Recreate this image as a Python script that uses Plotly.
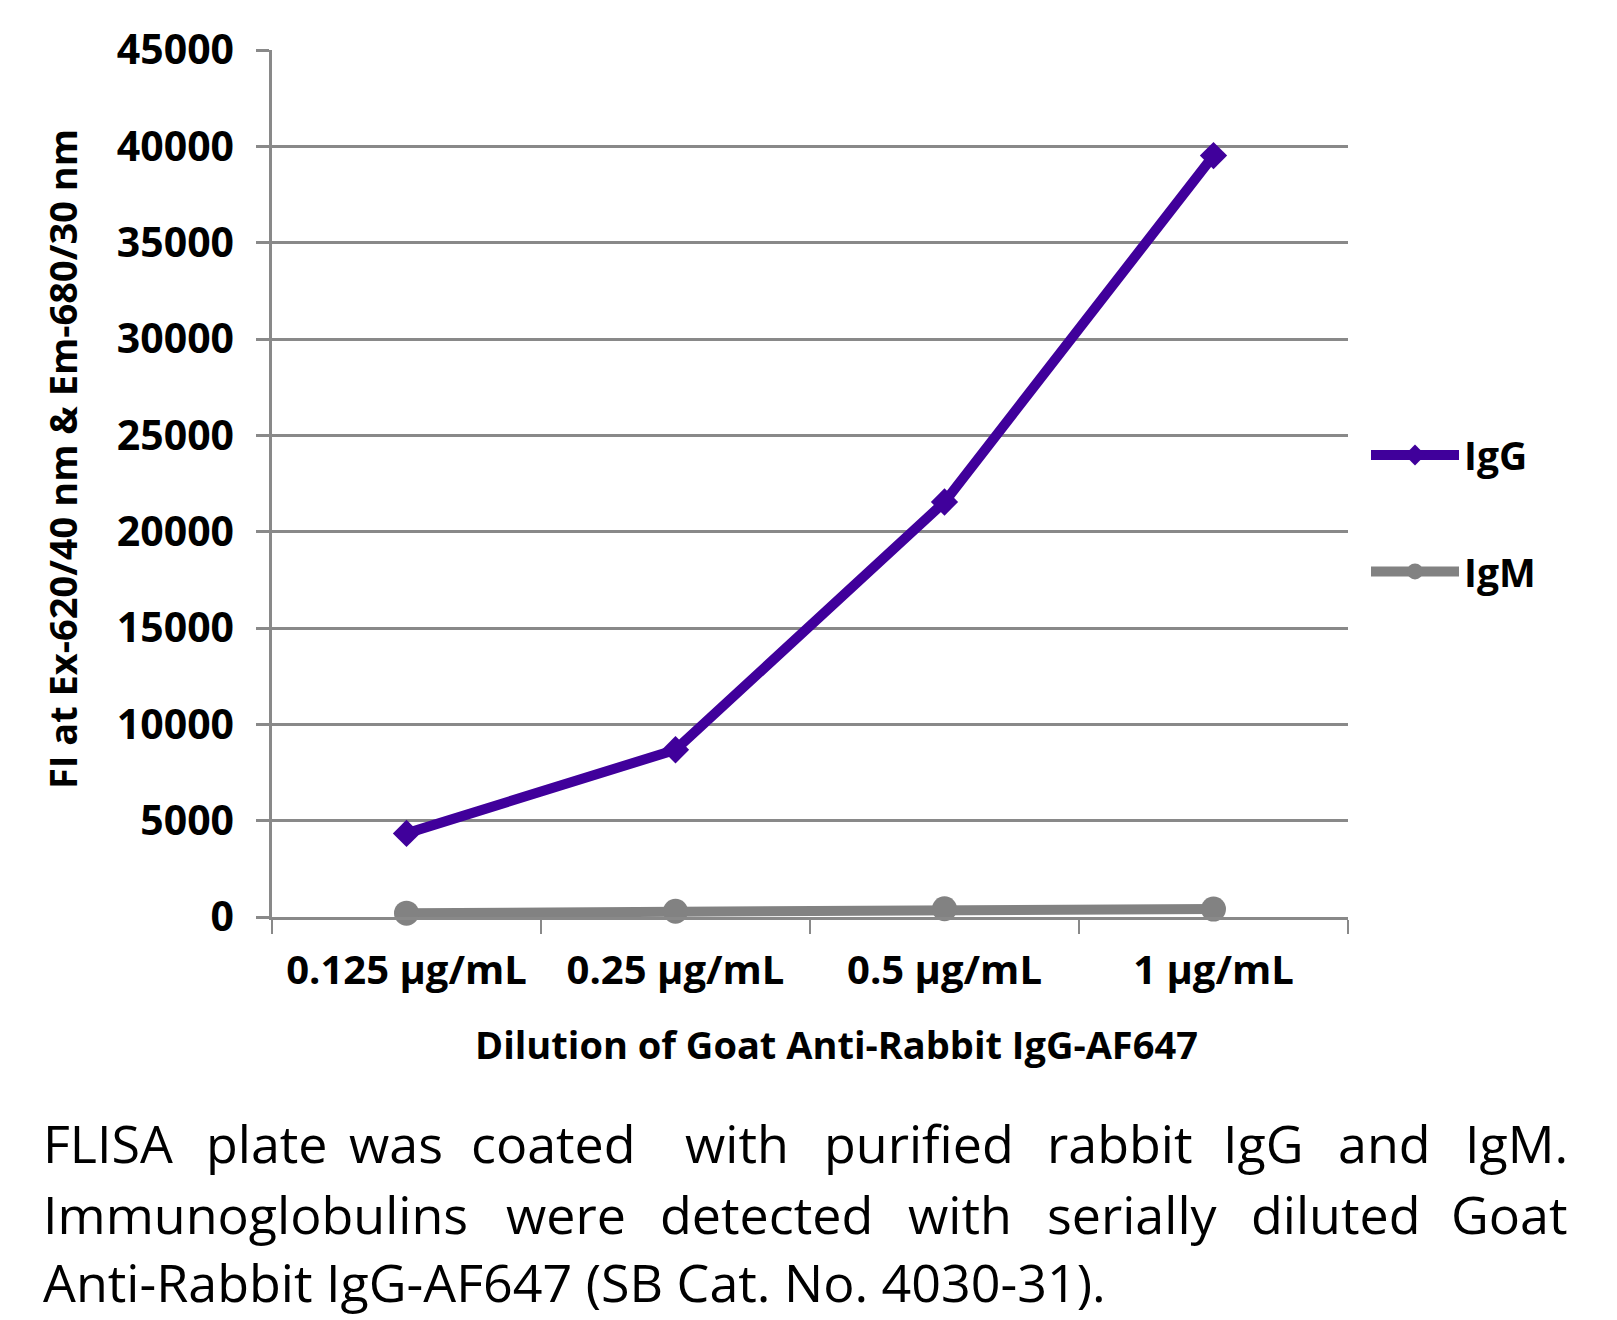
import plotly.graph_objects as go

# ---- data ----
categories = ["0.125 µg/mL", "0.25 µg/mL", "0.5 µg/mL", "1 µg/mL"]
igg_values = [4340, 8680, 21540, 39520]
igm_values = [200, 300, 430, 410]
y_tick_values = [0, 5000, 10000, 15000, 20000, 25000, 30000, 35000, 40000, 45000]

x_title = "Dilution of Goat Anti-Rabbit IgG-AF647"
y_title = "FI at Ex-620/40 nm & Em-680/30 nm"
caption_line1 = ["FLISA", "plate", "was", "coated", "with", "purified", "rabbit", "IgG", "and", "IgM."]
caption_line2 = ["Immunoglobulins", "were", "detected", "with", "serially", "diluted", "Goat"]
caption_line3 = "Anti-Rabbit IgG-AF647 (SB Cat. No. 4030-31)."

# ---- layout geometry (reference pixels; page body has an 8px margin) ----
O = 8
W, H = 1617 - O, 1320 - O
L, R, T, B = 272, 1348, 46, 917
PW, PH = R - L, B - T


def px(x):
    return (x - L) / PW


def py(y):
    return (B - y) / PH


GRID = "#898989"
PURPLE = "#40009B"
GRAY = "#828282"
BOLD = "Open Sans"

fig = go.Figure()
fig.add_trace(go.Scatter(
    x=categories, y=igg_values, name="IgG", mode="lines+markers",
    line=dict(color=PURPLE, width=10),
    marker=dict(symbol="diamond", size=21, color=PURPLE),
    cliponaxis=False, legend="legend",
))
fig.add_trace(go.Scatter(
    x=categories, y=igm_values, name="IgM", mode="lines+markers",
    line=dict(color=GRAY, width=10),
    marker=dict(symbol="circle", size=25, color=GRAY),
    cliponaxis=False, legend="legend2",
))

legend_common = dict(
    font=dict(family=BOLD, size=39, color="black", weight="bold"),
    bgcolor="rgba(0,0,0,0)", itemwidth=88, xanchor="left", yanchor="middle",
)

annotations = []
# axis titles
annotations.append(dict(
    text=y_title, textangle=-90, xref="paper", yref="paper",
    x=px(62), y=py(457), xanchor="center", yanchor="middle", showarrow=False,
    font=dict(family=BOLD, size=38, color="black", weight="bold"),
))
annotations.append(dict(
    text=x_title, xref="paper", yref="paper",
    x=px(836), y=py(1045), xanchor="center", yanchor="middle", showarrow=False,
    font=dict(family=BOLD, size=38, color="black", weight="bold"),
))

cap_font = dict(family="Open Sans", size=52, color="black")
# line 1 word positions (centres), justified
line1_x = [None, 267, 396, 553, 737, 919, 1119, 1263, 1384, None]
line2_x = [None, 566, 766, 960, 1132, 1336, None]
LEFT, RIGHT = 41, 1570


def add_line(words, xs, ycen):
    for i, (w, xc) in enumerate(zip(words, xs)):
        if i == 0:
            xa, xv = "left", LEFT
        elif i == len(words) - 1:
            xa, xv = "right", RIGHT
        else:
            xa, xv = "center", xc
        annotations.append(dict(
            text=w, xref="paper", yref="paper", x=px(xv), y=py(ycen),
            xanchor=xa, yanchor="middle", showarrow=False, font=cap_font,
        ))


add_line(caption_line1, line1_x, 1144)
add_line(caption_line2, line2_x, 1215)
annotations.append(dict(
    text=caption_line3, xref="paper", yref="paper", x=px(LEFT), y=py(1283),
    xanchor="left", yanchor="middle", showarrow=False, font=cap_font,
))

fig.update_layout(
    width=W, height=H,
    margin=dict(l=L - O, r=W - (R - O), t=T - O, b=H - (B - O), pad=0),
    paper_bgcolor="white", plot_bgcolor="white",
    showlegend=True,
    legend=dict(x=px(1366), y=py(453), **legend_common),
    legend2=dict(x=px(1366), y=py(570), **legend_common),
    annotations=annotations,
    xaxis=dict(
        type="category", range=[-0.5, 3.5],
        showline=True, linecolor=GRID, linewidth=2.5,
        ticks="outside", tickson="boundaries", ticklen=14, tickcolor=GRID, tickwidth=2,
        showgrid=False, ticklabelstandoff=16,
        tickfont=dict(family=BOLD, size=40, color="black", weight="bold"),
    ),
    yaxis=dict(
        range=[0, 45000], tickvals=y_tick_values, tickformat="d",
        showline=True, linecolor=GRID, linewidth=2.5,
        ticks="outside", ticklen=13, tickcolor=GRID, tickwidth=2.5,
        showgrid=True, gridcolor=GRID, gridwidth=2.5, zeroline=False,
        ticklabelstandoff=14,
        tickfont=dict(family=BOLD, size=41, color="black", weight="bold"),
    ),
)

fig.write_html("out.html")
